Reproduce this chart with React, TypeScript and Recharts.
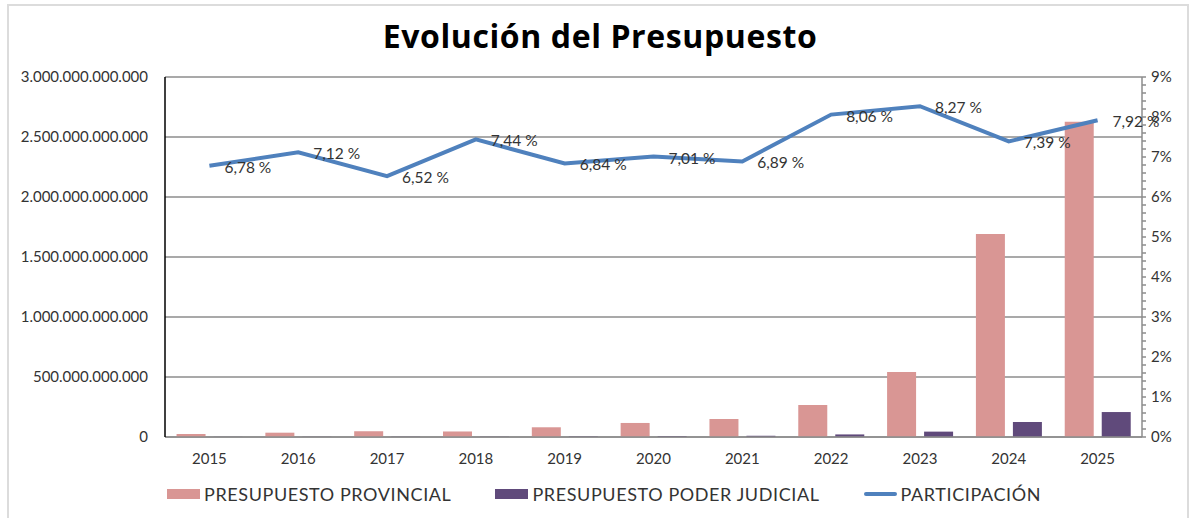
import React from 'react';
import { ComposedChart, Bar, Line, XAxis, YAxis, CartesianGrid, LabelList } from 'recharts';

const YEARS = ['2015', '2016', '2017', '2018', '2019', '2020', '2021', '2022', '2023', '2024', '2025'];
const PROVINCIAL = [25e9, 36e9, 48e9, 46e9, 81e9, 117e9, 150e9, 267e9, 542e9, 1692e9, 2628e9];
const JUDICIAL = [1.7e9, 2.6e9, 3.1e9, 3.4e9, 5.5e9, 8.2e9, 10.3e9, 21.5e9, 44.8e9, 125e9, 208e9];
const PARTICIPACION = [6.78, 7.12, 6.52, 7.44, 6.84, 7.01, 6.89, 8.06, 8.27, 7.39, 7.92];

const LEFT_TICKS = [0, 5e11, 1e12, 1.5e12, 2e12, 2.5e12, 3e12];
const RIGHT_TICKS = [0, 1, 2, 3, 4, 5, 6, 7, 8, 9];
// minor ticks every 0.2 % on the right axis
const RIGHT_MINOR = RIGHT_TICKS.slice(0, -1).flatMap(t => [t, t + 0.2, t + 0.4, t + 0.6, t + 0.8]).concat([9]);

const LEGEND = [
    { name: 'PRESUPUESTO PROVINCIAL', color: '#D99694', type: 'bar' },
    { name: 'PRESUPUESTO PODER JUDICIAL', color: '#604A7B', type: 'bar' },
    { name: 'PARTICIPACIÓN', color: '#4F81BD', type: 'line' },
];

const data = YEARS.map((year, i) => ({
    year,
    provincial: PROVINCIAL[i],
    judicial: JUDICIAL[i],
    participacion: PARTICIPACION[i],
}));

const FONT = 'Lato, "Noto Sans", sans-serif';
const TEXT = '#333333';
const GRID = '#8c8c8c';

const fmtMiles = (v: number) => Math.round(v).toString().replace(/\B(?=(\d{3})+(?!\d))/g, '.');

const RightTick = (props: any) => {
    const { x, y, payload } = props;
    const v = payload.value;
    if (Math.abs(v - Math.round(v)) > 0.01) return null;
    return (
        <text x={x} y={y} dy={5} textAnchor="start" fontSize={15} fill={TEXT} fontFamily={FONT}>
            {`${Math.round(v)}%`}
        </text>
    );
};

const PctLabel = (props: any) => {
    const { x, y, value } = props;
    return (
        <text x={x + 15} y={y + 2} dy={5} fontSize={15.5} fill={TEXT} fontFamily={FONT}>
            {`${value.toFixed(2).replace('.', ',')} %`}
        </text>
    );
};

export default function App() {
    return (
        <div style={{ position: 'absolute', left: 0, top: 0, width: 1191, height: 518, background: '#fff', fontFamily: FONT, overflow: 'hidden' }}>
            <div style={{ position: 'absolute', left: 7, top: 4, width: 1178, height: 520, borderTop: '2px solid #dcdcdc', borderLeft: '2px solid #dcdcdc', borderRight: '2px solid #dcdcdc' }} />
            <div style={{ position: 'absolute', left: 0, top: 14, width: 1200, textAlign: 'center', fontSize: 32, letterSpacing: 0.6, fontWeight: 700, color: '#000', lineHeight: '44px', fontFamily: '"Open Sans", Lato, sans-serif' }}>
                Evolución del Presupuesto
            </div>
            <div style={{ position: 'absolute', left: 0, top: 0 }}>
                <ComposedChart
                    width={1191}
                    height={518}
                    data={data}
                    margin={{ top: 77, right: 0, bottom: 51, left: 15 }}
                    barCategoryGap="13%"
                    barGap={8}
                >
                    <CartesianGrid yAxisId="left" vertical={false} stroke={GRID} strokeWidth={1.5} />
                    <XAxis
                        dataKey="year"
                        height={30}
                        stroke={GRID}
                        strokeWidth={1.5}
                        tickLine={false}
                        tickMargin={10}
                        tick={{ fontSize: 15, fill: TEXT, fontFamily: FONT }}
                    />
                    <YAxis
                        yAxisId="left"
                        width={150}
                        domain={[0, 3e12]}
                        ticks={LEFT_TICKS}
                        tickFormatter={fmtMiles}
                        stroke="#000"
                        strokeWidth={1.5}
                        tickLine={false}
                        tickSize={0}
                        tickMargin={17}
                        tick={{ fontSize: 15, fill: TEXT, fontFamily: FONT }}
                    />
                    <YAxis
                        yAxisId="right"
                        orientation="right"
                        width={49}
                        domain={[0, 9]}
                        ticks={RIGHT_MINOR}
                        interval={0}
                        stroke={GRID}
                        strokeWidth={1.5}
                        tickSize={4}
                        tickMargin={5}
                        tickLine={{ stroke: GRID }}
                        tick={<RightTick />}
                    />
                    <Bar yAxisId="left" dataKey="provincial" fill="#D99694" isAnimationActive={false} />
                    <Bar yAxisId="left" dataKey="judicial" fill="#604A7B" isAnimationActive={false} />
                    <Line
                        yAxisId="right"
                        dataKey="participacion"
                        stroke="#4F81BD"
                        strokeWidth={4}
                        dot={false}
                        activeDot={false}
                        isAnimationActive={false}
                    >
                        <LabelList dataKey="participacion" content={<PctLabel />} />
                    </Line>
                </ComposedChart>
            </div>
            <div style={{ position: 'absolute', left: 167, top: 482, display: 'flex', alignItems: 'center', fontSize: 18, letterSpacing: 0.6, color: TEXT, lineHeight: '24px' }}>
                {LEGEND.map((item, i) => (
                    <div key={item.name} style={{ display: 'flex', alignItems: 'center', marginRight: i === LEGEND.length - 1 ? 0 : 44 }}>
                        <span
                            style={{
                                display: 'inline-block',
                                width: 33,
                                height: item.type === 'line' ? 4 : 10,
                                background: item.color,
                                marginRight: 4,
                                borderRadius: item.type === 'line' ? 2 : 0,
                            }}
                        />
                        <span>{item.name}</span>
                    </div>
                ))}
            </div>
        </div>
    );
}
